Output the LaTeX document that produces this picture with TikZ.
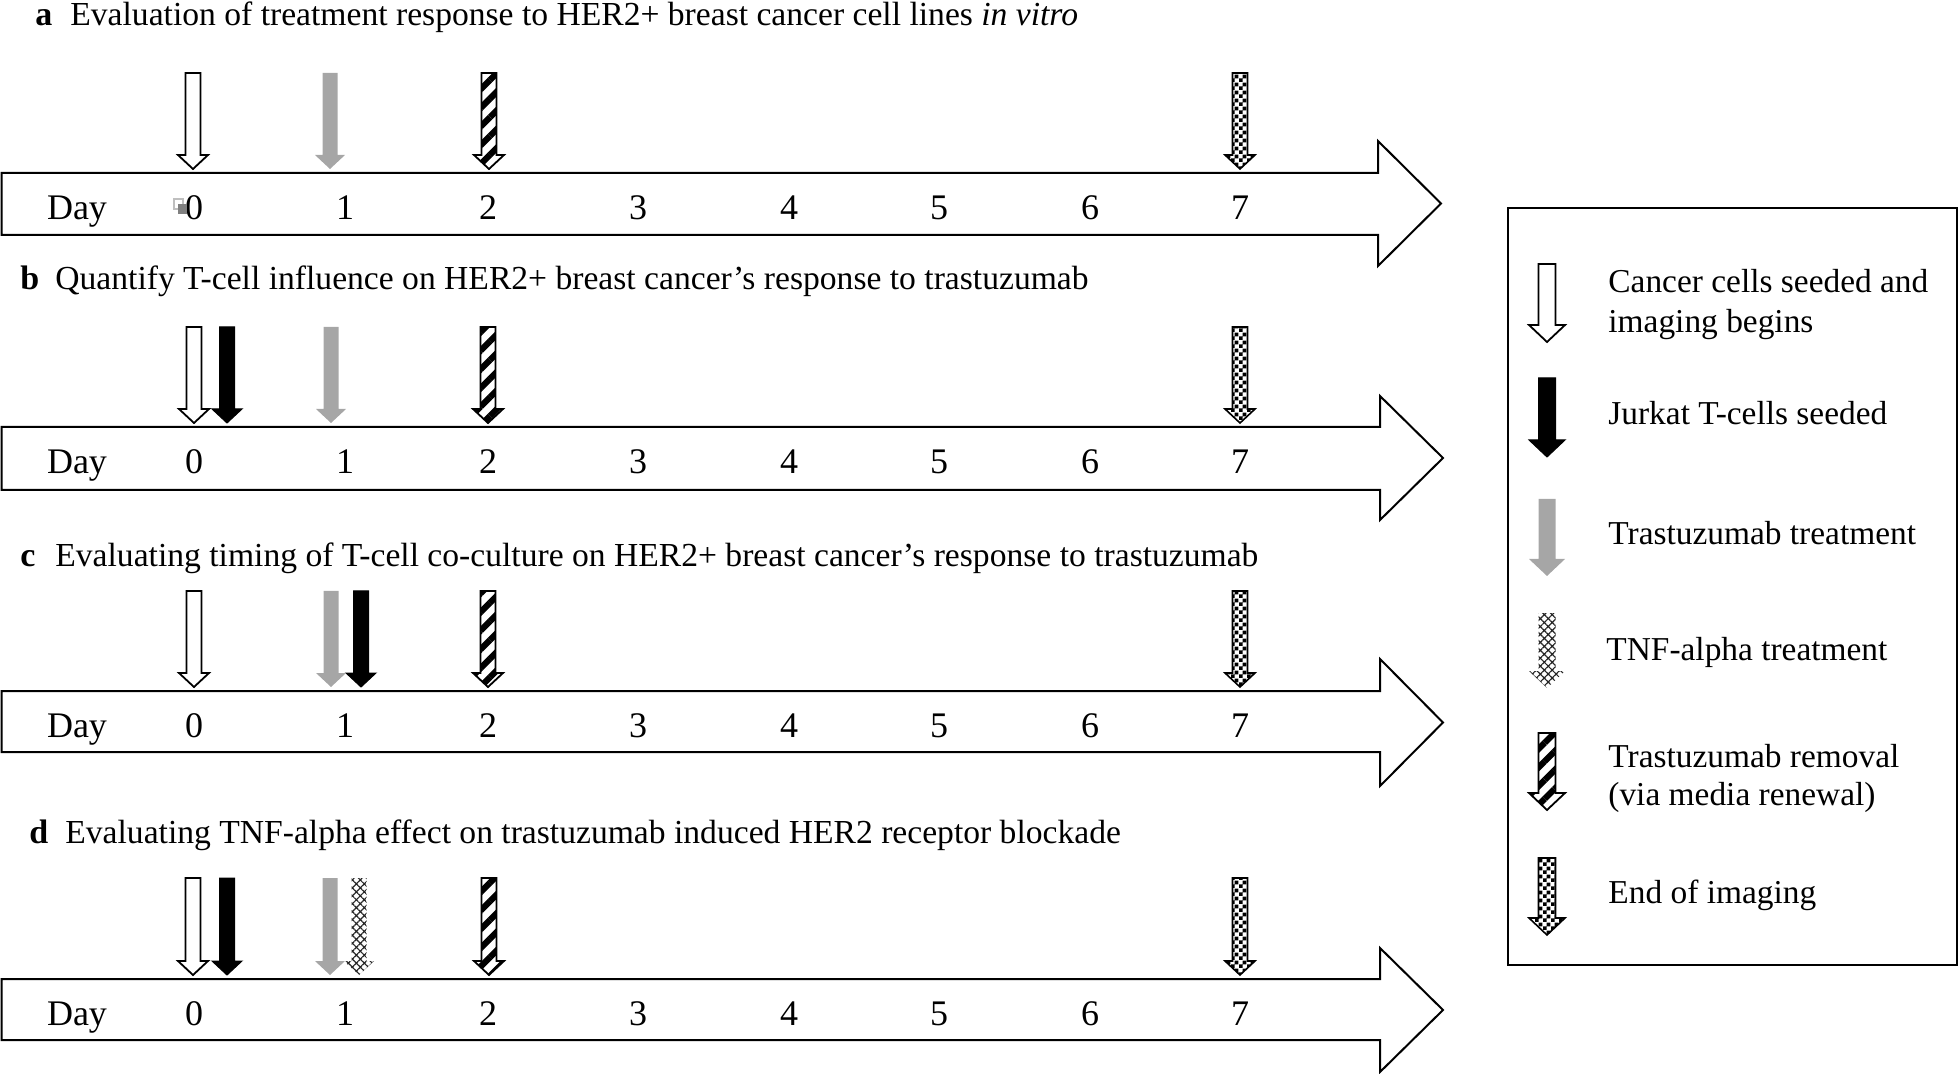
\documentclass[tikz,border=0pt]{standalone}
\usepackage{fontspec}
\setmainfont{Liberation Serif}
\usetikzlibrary{patterns,patterns.meta}
\pgfdeclarepatternformonly{finecheck}{\pgfpointorigin}{\pgfqpoint{3.8pt}{3.8pt}}{\pgfqpoint{3.8pt}{3.8pt}}{%
  \pgfpathrectangle{\pgfpointorigin}{\pgfqpoint{1.92pt}{1.92pt}}%
  \pgfpathrectangle{\pgfqpoint{1.9pt}{1.9pt}}{\pgfqpoint{1.92pt}{1.92pt}}%
  \pgfusepath{fill}}
\newcommand\sw{7.5}
\newcommand\hw{15}
\newcommand\hh{14}
% down arrow: x, top, tip, style
\newcommand\darr[4]{%
  \path[#4] ({#1-\sw},#2) -- ({#1+\sw},#2) -- ({#1+\sw},{#3-\hh}) -- ({#1+\hw},{#3-\hh})
    -- (#1,#3) -- ({#1-\hw},{#3-\hh}) -- ({#1-\sw},{#3-\hh}) -- cycle;}
% timeline: shaft top, shaft bottom, head top, head bottom, tip x, head x
\newcommand\tline[6]{%
  \draw[tl] (1.5,#1) -- (#6,#1) -- (#6,#3) -- (#5,{(#3+#4)/2}) -- (#6,#4) -- (#6,#2) -- (1.5,#2) -- cycle;}
\begin{document}
\begin{tikzpicture}[x=0.5pt,y=-0.5pt,
  tl/.style={draw=black, line width=1pt, line join=miter},
  whitearr/.style={draw=black, line width=0.9pt, fill=white},
  blackarr/.style={draw=black, line width=0.5pt, fill=black},
  grayarr/.style={fill=black!35},
  tnfarr/.style={pattern={Hatch[angle=45,distance=2.8pt,line width=0.6pt]}, pattern color=black!85},
  hatcharr/.style={draw=black, line width=0.9pt, pattern={Lines[angle=45,distance=6.6pt,line width=3.1pt]}},
  checkarr/.style={draw=black, line width=0.8pt, pattern=finecheck},
  ttl/.style={anchor=base west, inner sep=0pt, font=\fontsize{16.8}{20}\selectfont},
  ltr/.style={anchor=base west, inner sep=0pt, font=\fontsize{17}{20}\selectfont\bfseries},
  daylab/.style={anchor=base, inner sep=0pt, font=\fontsize{18}{22}\selectfont},
  leg/.style={anchor=base west, inner sep=0pt, font=\fontsize{16.7}{20}\selectfont}
]
\useasboundingbox (0,0) rectangle (1959,1074);

% ---------- titles ----------
\node[ltr] (la) at (35,26) {a};
\node[ttl] (ta) at (70,26) {Evaluation of treatment response to HER2+ breast cancer cell lines \textit{in vitro}};
\node[ltr] (lb) at (20,290) {b};
\node[ttl] (tb) at (55,290) {Quantify T-cell influence on HER2+ breast cancer’s response to trastuzumab};
\node[ltr] (lc) at (20,567) {c};
\node[ttl] (tc) at (55,567) {Evaluating timing of T-cell co-culture on HER2+ breast cancer’s response to trastuzumab};
\node[ltr] (ld) at (29,843) {d};
\node[ttl] (td) at (65,843) {Evaluating TNF-alpha effect on trastuzumab induced HER2 receptor blockade};

% ---------- timelines ----------
\tline{173}{235}{141}{266}{1441}{1378}
\tline{427}{490}{396}{520}{1443}{1380}
\tline{691}{752}{659}{786}{1443}{1380}
\tline{979}{1040}{948}{1072}{1443}{1380}

\foreach \yb/\r in {220/a,474/b,737/c,1025/d}{
  \node[daylab] (day\r) at (77,\yb) {Day};
  \foreach \x/\n in {194/0,345/1,488/2,638/3,789/4,939/5,1090/6,1240/7}{
    \node[daylab] (n\r\n) at (\x,\yb) {\n};
  }
}
% small artefact beside 0 in panel a
\draw[black!25, line width=0.6pt] (174,199) rectangle (183,209);
\fill[black!50] (178,204) rectangle (187,214);

% ---------- panel a arrows ----------
\darr{193}{73}{169}{whitearr}
\darr{330}{73}{169}{grayarr}
\darr{489}{73}{169}{hatcharr}
\darr{1240}{73}{169}{checkarr}

% ---------- panel b arrows ----------
\darr{194}{327}{423}{whitearr}
\darr{227}{327}{423}{blackarr}
\darr{331}{327}{423}{grayarr}
\darr{488}{327}{423}{hatcharr}
\darr{1240}{327}{423}{checkarr}

% ---------- panel c arrows ----------
\darr{194}{591}{687}{whitearr}
\darr{331}{591}{687}{grayarr}
\darr{361}{591}{687}{blackarr}
\darr{488}{591}{687}{hatcharr}
\darr{1240}{591}{687}{checkarr}

% ---------- panel d arrows ----------
\darr{193}{878}{975}{whitearr}
\darr{227}{878}{975}{blackarr}
\darr{330}{878}{975}{grayarr}
\darr{359}{878}{975}{tnfarr}
\darr{489}{878}{975}{hatcharr}
\darr{1240}{878}{975}{checkarr}

% ---------- legend ----------
\draw[line width=0.9pt] (1508,208) rectangle (1957,965);
\renewcommand\sw{8.5}
\renewcommand\hw{18}
\renewcommand\hh{17}
\darr{1547}{264}{342}{whitearr}
\darr{1547}{378}{457}{blackarr}
\darr{1547}{499}{576}{grayarr}
\darr{1547}{613}{688}{tnfarr}
\darr{1547}{733}{810}{hatcharr}
\darr{1547}{858}{935}{checkarr}

\node[leg] (g1a) at (1608,293) {Cancer cells seeded and};
\node[leg] (g1b) at (1608,333) {imaging begins};
\node[leg] (g2) at (1608,425) {Jurkat T-cells seeded};
\node[leg] (g3) at (1608,545) {Trastuzumab treatment};
\node[leg] (g4) at (1606,660) {TNF-alpha treatment};
\node[leg] (g5a) at (1608,767) {Trastuzumab removal};
\node[leg] (g5b) at (1608,805) {(via media renewal)};
\node[leg] (g6) at (1608,903) {End of imaging};
\end{tikzpicture}
\end{document}
